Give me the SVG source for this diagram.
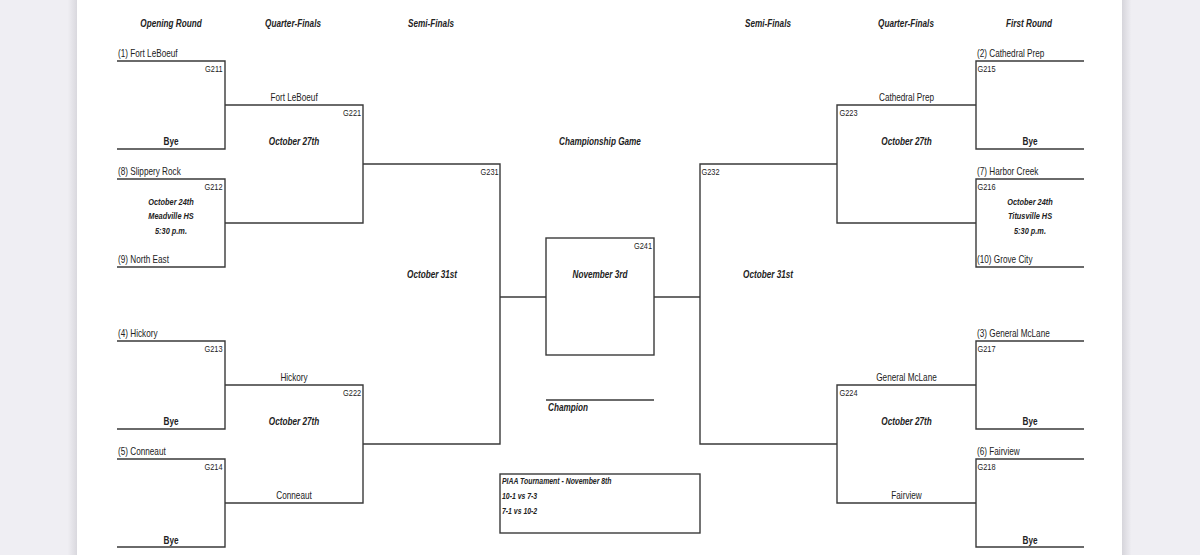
<svg xmlns="http://www.w3.org/2000/svg" width="1200" height="555" viewBox="0 0 1200 555">
<defs>
<linearGradient id="shL" x1="0" y1="0" x2="1" y2="0">
<stop offset="0" stop-color="#efeef3"/>
<stop offset="0.88" stop-color="#efeef3"/>
<stop offset="1" stop-color="#d9d8de"/>
</linearGradient>
<linearGradient id="shR" x1="0" y1="0" x2="1" y2="0">
<stop offset="0" stop-color="#d6d5db"/>
<stop offset="0.12" stop-color="#efeef3"/>
<stop offset="1" stop-color="#efeef3"/>
</linearGradient>
<style>
text{font-family:"Liberation Sans",Arial,sans-serif;fill:#222;transform-box:fill-box;transform-origin:0% 50%;transform:scaleX(0.82)}
.h{font-size:10px;font-weight:bold;font-style:italic;text-anchor:middle;transform-origin:50% 50%}
.t{font-size:10px}
.c{text-anchor:middle;transform-origin:50% 50%}
.e{text-anchor:end;transform-origin:100% 50%}
.g{font-size:9px}
.d{font-size:9px;font-weight:bold;font-style:italic;text-anchor:middle;transform-origin:50% 50%}
.q{font-size:10px;font-weight:bold;font-style:italic;text-anchor:middle;transform-origin:50% 50%}
.b{font-size:10px;font-weight:bold;text-anchor:middle;transform-origin:50% 50%}
.p{font-size:8.4px;font-weight:bold;font-style:italic}
.cs{font-size:10px;font-weight:bold;font-style:italic}
.ln{fill:none;stroke:#3a3a3a;stroke-width:1.4}
</style>
</defs>
<rect width="1200" height="555" fill="#ffffff"/>
<rect x="0" y="0" width="77" height="555" fill="url(#shL)"/>
<rect x="1122" y="0" width="78" height="555" fill="url(#shR)"/>

<g id="headers">
<text class="h" x="171" y="27">Opening Round</text>
<text class="h" x="293" y="27">Quarter-Finals</text>
<text class="h" x="431" y="27">Semi-Finals</text>
<text class="h" x="768" y="27">Semi-Finals</text>
<text class="h" x="906" y="27">Quarter-Finals</text>
<text class="h" x="1029" y="27">First Round</text>
<text class="h" x="600" y="145.5">Championship Game</text>
</g>

<g id="G211">
<path class="ln" d="M117 61H225V149H117"/>
<text class="t" x="118" y="57.5">(1) Fort LeBoeuf</text>
<text class="g e" x="222.5" y="72">G211</text>
<text class="b" x="171" y="145.5">Bye</text>
</g>
<g id="G212">
<path class="ln" d="M117 179H225V267H117"/>
<text class="t" x="118" y="175.5">(8) Slippery Rock</text>
<text class="g e" x="222.5" y="190">G212</text>
<text class="d" x="171" y="205">October 24th</text>
<text class="d" x="171" y="219.5">Meadville HS</text>
<text class="d" x="171" y="234">5:30 p.m.</text>
<text class="t" x="118" y="263.5">(9) North East</text>
</g>
<g id="G213">
<path class="ln" d="M117 341H225V429H117"/>
<text class="t" x="118" y="337.5">(4) Hickory</text>
<text class="g e" x="222.5" y="352">G213</text>
<text class="b" x="171" y="425.5">Bye</text>
</g>
<g id="G214">
<path class="ln" d="M117 459H225V547H117"/>
<text class="t" x="118" y="455">(5) Conneaut</text>
<text class="g e" x="222.5" y="470">G214</text>
<text class="b" x="171" y="544">Bye</text>
</g>
<g id="G221">
<path class="ln" d="M225 105H363V223H225"/>
<text class="t c" x="294" y="101.5">Fort LeBoeuf</text>
<text class="g e" x="361" y="116">G221</text>
<text class="q" x="294" y="145.5">October 27th</text>
</g>
<g id="G222">
<path class="ln" d="M225 385H363V503H225"/>
<text class="t c" x="294" y="381.5">Hickory</text>
<text class="g e" x="361" y="396.5">G222</text>
<text class="q" x="294" y="425.5">October 27th</text>
<text class="t c" x="294" y="499.5">Conneaut</text>
</g>
<g id="G231">
<path class="ln" d="M363 164H500V444H363"/>
<text class="g e" x="498.5" y="175">G231</text>
<text class="q" x="432" y="278.5">October 31st</text>
</g>

<g id="G215">
<path class="ln" d="M1084 61H976V149H1084"/>
<text class="t" x="977" y="57.5">(2) Cathedral Prep</text>
<text class="g" x="977.5" y="72">G215</text>
<text class="b" x="1030" y="145.5">Bye</text>
</g>
<g id="G216">
<path class="ln" d="M1084 179H976V267H1084"/>
<text class="t" x="977" y="175.5">(7) Harbor Creek</text>
<text class="g" x="977.5" y="190">G216</text>
<text class="d" x="1030" y="205">October 24th</text>
<text class="d" x="1030" y="219.5">Titusville HS</text>
<text class="d" x="1030" y="234">5:30 p.m.</text>
<text class="t" x="977" y="263.5">(10) Grove City</text>
</g>
<g id="G217">
<path class="ln" d="M1084 341H976V429H1084"/>
<text class="t" x="977" y="337.5">(3) General McLane</text>
<text class="g" x="977.5" y="352">G217</text>
<text class="b" x="1030" y="425.5">Bye</text>
</g>
<g id="G218">
<path class="ln" d="M1084 459H976V547H1084"/>
<text class="t" x="977" y="455">(6) Fairview</text>
<text class="g" x="977.5" y="470">G218</text>
<text class="b" x="1030" y="544">Bye</text>
</g>
<g id="G223">
<path class="ln" d="M976 105H837V223H976"/>
<text class="t c" x="906.5" y="101.5">Cathedral Prep</text>
<text class="g" x="839.5" y="116">G223</text>
<text class="q" x="906.5" y="145.5">October 27th</text>
</g>
<g id="G224">
<path class="ln" d="M976 385H837V503H976"/>
<text class="t c" x="906.5" y="381.5">General McLane</text>
<text class="g" x="839.5" y="396.5">G224</text>
<text class="q" x="906.5" y="425.5">October 27th</text>
<text class="t c" x="906.5" y="499.5">Fairview</text>
</g>
<g id="G232">
<path class="ln" d="M837 164H700V444H837"/>
<text class="g" x="701.5" y="175">G232</text>
<text class="q" x="768" y="278.5">October 31st</text>
</g>

<g id="G241">
<rect class="ln" x="546" y="238" width="108" height="117"/>
<text class="g e" x="652" y="249">G241</text>
<text class="q" x="600" y="278.5">November 3rd</text>
</g>
<g id="champion">
<path class="ln" d="M546 400H654"/>
<text class="cs" x="548" y="411">Champion</text>
</g>
<g id="piaa">
<rect class="ln" x="500" y="474" width="200" height="59"/>
<text class="p" x="502" y="484.5">PIAA Tournament - November 8th</text>
<text class="p" x="502" y="499.5">10-1 vs 7-3</text>
<text class="p" x="502" y="514.5">7-1 vs 10-2</text>
</g>

<g id="connectors">
<path class="ln" d="M500 297H546"/>
<path class="ln" d="M654 297H700"/>
</g>
</svg>
